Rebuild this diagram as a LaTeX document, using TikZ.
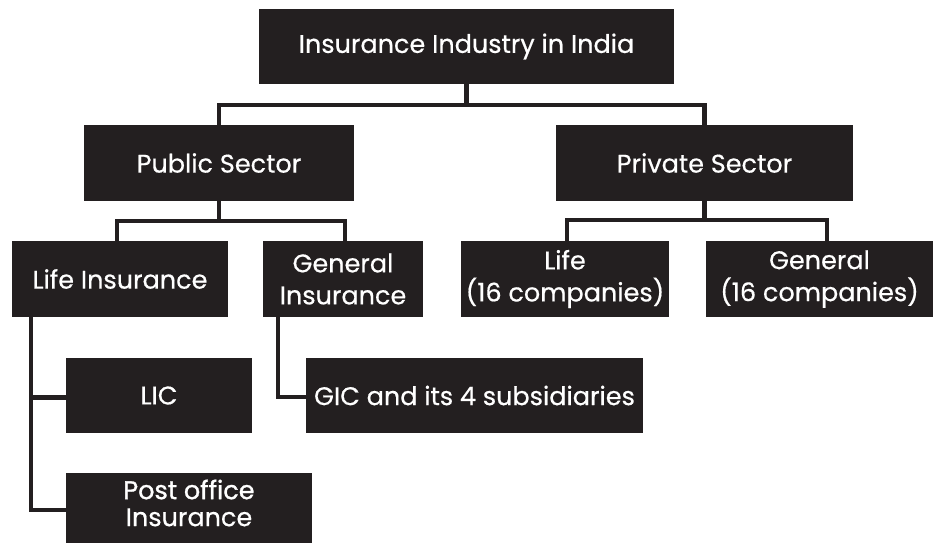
\documentclass[tikz,border=0pt]{standalone}
\usepackage{fontspec}
\setmainfont[FakeBold=0.5]{Poppins}
\newfontfamily\semib[FakeBold=1.2]{Poppins}
\definecolor{ink}{HTML}{231F20}
\begin{document}
\begin{tikzpicture}[x=1pt,y=-1pt,
  box/.style={fill=ink,text=white,inner sep=0pt,align=center,font=\fontsize{25.5}{32}\selectfont},
  link/.style={draw=ink,line width=4.5pt}]
\useasboundingbox (0,0) rectangle (934,544);
\node[box,minimum width=415,minimum height=75] (top) at (466.5,46.5) {Insurance Industry in India};
\node[box,minimum width=270,minimum height=76] (pub) at (219,163) {Public Sector};
\node[box,minimum width=297,minimum height=76] (priv) at (704.5,163) {Private Sector};
\node[box,minimum width=216,minimum height=76] (life) at (120,279) {Life Insurance};
\node[box,minimum width=160,minimum height=76] (gen) at (343,279) {General\\Insurance};
\node[box,minimum width=208,minimum height=76] (plife) at (565,279) {Life\\(16 companies)};
\node[box,minimum width=227,minimum height=76] (pgen) at (819.5,279) {General\\(16 companies)};
\node[box,minimum width=186,minimum height=75] (lic) at (159,395.5) {LIC};
\node[box,minimum width=246,minimum height=70] (post) at (189,508) {};
\node[text=white,align=center,inner sep=0pt,font=\fontsize{25.5}{27}\selectfont] (posttxt) at ([yshift=5pt]post.center) {{\semib Post office}\\Insurance};
\node[box,minimum width=337,minimum height=75] (gic) at (474.5,395.5) {GIC and its 4 subsidiaries};
\coordinate (j1) at (top.south |- 0,105);
\coordinate (j2) at (pub.south |- 0,221);
\coordinate (j3) at (priv.south |- 0,220);
\draw[link] (top.south) -- (j1);
\draw[link] (pub.north) -- (pub.north |- j1) -- (priv.north |- j1) -- (priv.north);
\draw[link] (pub.south) -- (j2);
\draw[link] (life.north -| 117,0) -- (117,221) -- (345,221) -- (gen.north -| 345,0);
\draw[link] (priv.south) -- (j3);
\draw[link] (plife.north -| 567,0) -- (567,220) -- (827,220) -- (pgen.north -| 827,0);
\draw[link] (life.south -| 31,0) -- (31,510) -- (post.west |- 0,510);
\draw[link] (31,397.5) -- (lic.west |- 0,397.5);
\draw[link] (gen.south -| 278,0) -- (278,397) -- (gic.west |- 0,397);
\end{tikzpicture}
\end{document}
